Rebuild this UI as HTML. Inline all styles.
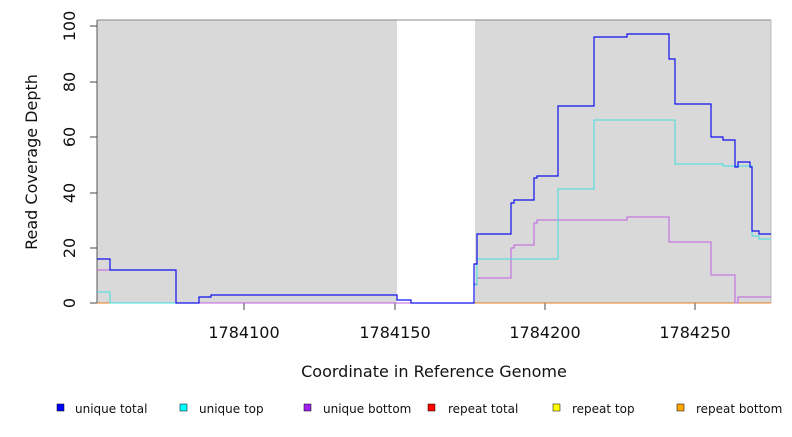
<!DOCTYPE html>
<html><head><style>
body{margin:0;background:#fff;}
svg text{font-family:"DejaVu Sans","Liberation Sans",sans-serif;}
</style></head><body>
<svg width="792" height="432" viewBox="0 0 792 432" xmlns="http://www.w3.org/2000/svg">
<rect x="97" y="20" width="300" height="283" fill="#d9d9d9"/>
<rect x="475" y="20" width="296" height="283" fill="#d9d9d9"/>
<line x1="97" y1="20" x2="771" y2="20" stroke="#888" stroke-width="1"/>
<line x1="771" y1="20" x2="771" y2="303" stroke="#bbb" stroke-width="1"/>
<line x1="97" y1="20" x2="97" y2="303" stroke="#555" stroke-width="1"/>
<g stroke="#444" stroke-width="1">
<line x1="90" y1="303" x2="97" y2="303"/><line x1="90" y1="248" x2="97" y2="248"/>
<line x1="90" y1="193" x2="97" y2="193"/><line x1="90" y1="137" x2="97" y2="137"/>
<line x1="90" y1="82" x2="97" y2="82"/><line x1="90" y1="26" x2="97" y2="26"/>
<line x1="244" y1="303" x2="244" y2="310"/><line x1="395" y1="303" x2="395" y2="310"/>
<line x1="545" y1="303" x2="545" y2="310"/><line x1="695" y1="303" x2="695" y2="310"/>
</g>
<g font-size="16" fill="#111" text-anchor="middle">
<text transform="translate(75,303) rotate(-90)">0</text>
<text transform="translate(75,248) rotate(-90)">20</text>
<text transform="translate(75,193) rotate(-90)">40</text>
<text transform="translate(75,137) rotate(-90)">60</text>
<text transform="translate(75,82) rotate(-90)">80</text>
<text transform="translate(75,26) rotate(-90)">100</text>
<text x="244" y="338">1784100</text><text x="395" y="338">1784150</text>
<text x="545" y="338">1784200</text><text x="695" y="338">1784250</text>
<text x="434" y="377">Coordinate in Reference Genome</text>
<text transform="translate(37,162) rotate(-90)">Read Coverage Depth</text>
</g>
<polyline fill="none" stroke="#e08020" stroke-width="1" points="97,303 771,303"/>
<polyline fill="none" stroke="#c060e0" stroke-width="1" points="97,270 176,270 176,303 474,303 474,284 477,284 477,278 511,278 511,248 514,248 514,245 534,245 534,223 537,223 537,220 627,220 627,217 669,217 669,242 711,242 711,275 735,275 735,303 738,303 738,297 771,297"/>
<polyline fill="none" stroke="#40e0e0" stroke-width="1" points="97,292 110,292 110,303 199,303 199,297 211,297 211,295 397,295 397,300 411,300 411,303 474,303 474,285 477,285 477,259 558,259 558,189 594,189 594,120 675,120 675,164 723,164 723,166 752,166 752,236 759,236 759,239 771,239"/>
<polyline fill="none" stroke="#1010ee" stroke-width="1.2" points="97,259 110,259 110,270 176,270 176,303 199,303 199,297 211,297 211,295 397,295 397,300 411,300 411,303 474,303 474,264 477,264 477,234 511,234 511,203 514,203 514,200 534,200 534,178 537,178 537,176 558,176 558,106 594,106 594,37 627,37 627,34 669,34 669,59 675,59 675,104 711,104 711,137 723,137 723,140 735,140 735,167 738,167 738,162 750,162 750,167 752,167 752,231 759,231 759,234 771,234"/>
<g font-size="12" fill="#111">
<rect x="57" y="404" width="7" height="7" fill="#0000ff" stroke="#000" stroke-width="0.5"/><text x="75" y="413">unique total</text>
<rect x="180" y="404" width="7" height="7" fill="#00ffff" stroke="#000" stroke-width="0.5"/><text x="199" y="413">unique top</text>
<rect x="304" y="404" width="7" height="7" fill="#a020f0" stroke="#000" stroke-width="0.5"/><text x="323" y="413">unique bottom</text>
<rect x="428" y="404" width="7" height="7" fill="#ff0000" stroke="#000" stroke-width="0.5"/><text x="448" y="413">repeat total</text>
<rect x="553" y="404" width="7" height="7" fill="#ffff00" stroke="#000" stroke-width="0.5"/><text x="572" y="413">repeat top</text>
<rect x="677" y="404" width="7" height="7" fill="#ffa500" stroke="#000" stroke-width="0.5"/><text x="696" y="413">repeat bottom</text>
</g>
</svg>
</body></html>
